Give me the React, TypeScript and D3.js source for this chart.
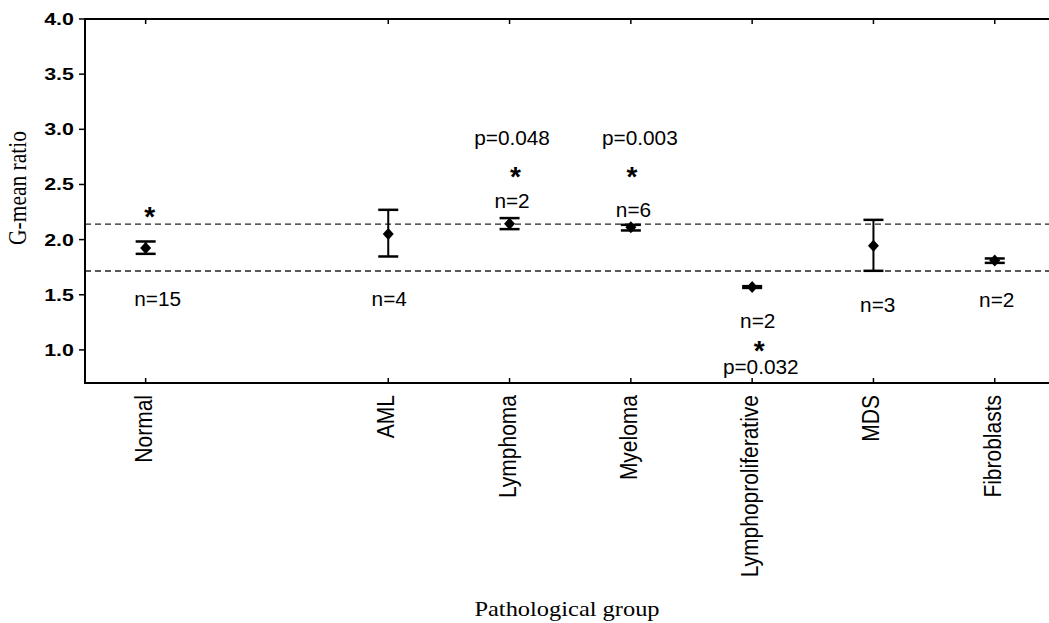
import React from "react";
import * as d3 from "d3";

// ---- data ----
const slots = ["Normal", "__gap__", "AML", "Lymphoma", "Myeloma", "Lymphoproliferative", "MDS", "Fibroblasts"];
const categories = ["Normal", "AML", "Lymphoma", "Myeloma", "Lymphoproliferative", "MDS", "Fibroblasts"];
const means = [1.923, 2.05, 2.143, 2.113, 1.57, 1.944, 1.811];
const lower = [1.871, 1.847, 2.095, 2.083, 1.562, 1.717, 1.789];
const upper = [1.983, 2.27, 2.195, 2.134, 1.578, 2.179, 1.829];
const yTicks = [1.0, 1.5, 2.0, 2.5, 3.0, 3.5, 4.0];
const refLines = [2.14, 1.715];

// annotation anchors in data units (value axis)
const annCat = ["Normal", "Normal", "AML", "Lymphoma", "Lymphoma", "Lymphoma", "Myeloma", "Myeloma", "Myeloma",
  "Lymphoproliferative", "Lymphoproliferative", "Lymphoproliferative", "MDS", "Fibroblasts"];
const annText = ["*", "n=15", "n=4", "p=0.048", "*", "n=2", "p=0.003", "*", "n=6", "n=2", "*", "p=0.032", "n=3", "n=2"];
const annValue = [2.27, 1.464, 1.464, 2.927, 2.632, 2.351, 2.927, 2.632, 2.273, 1.266, 1.052, 0.848, 1.412, 1.457];
const annDx = [4, 12, 1, 2.5, 6, 2.5, 9, 1, 2.6, 5.6, 7, 8.6, 4.3, 2];

const W = 1049;
const H = 623;
const left = 85;
const top = 19;
const bottom = 383;
const step = 121.3;

const sans = "'Liberation Sans', Arial, Helvetica, sans-serif";
const serif = "'Liberation Serif', 'Times New Roman', Times, serif";

export default function App() {
  const x = d3.scalePoint<string>().domain(slots).range([left, left + step * 8]).padding(0.5);
  const y = d3.scaleLinear().domain([0.7, 4.0]).range([bottom, top]);

  const diamond = (cx: number, cy: number) => {
    const p = d3.path();
    p.moveTo(cx, cy - 6);
    p.lineTo(cx + 5.5, cy);
    p.lineTo(cx, cy + 6);
    p.lineTo(cx - 5.5, cy);
    p.closePath();
    return p.toString();
  };

  return (
    <svg width={W} height={H} style={{ position: "absolute", left: 0, top: 0, background: "#fff" }}>
      <rect x={0} y={0} width={W} height={H} fill="#fff" />
      {/* reference dashed lines */}
      {refLines.map((v, i) => (
        <line key={"r" + i} x1={left} x2={W} y1={y(v)} y2={y(v)} stroke="#222" strokeWidth={1.4} strokeDasharray="6,4" />
      ))}
      {/* frame */}
      <line x1={left} x2={left} y1={top - 1} y2={bottom + 1} stroke="#000" strokeWidth={2} />
      <line x1={left} x2={W} y1={top} y2={top} stroke="#000" strokeWidth={2} />
      <line x1={left} x2={W} y1={bottom} y2={bottom} stroke="#000" strokeWidth={2} />
      {/* y ticks */}
      {yTicks.map((t) => (
        <g key={"yt" + t}>
          <line x1={left - 6} x2={left} y1={y(t)} y2={y(t)} stroke="#000" strokeWidth={1.5} />
          <text
            transform={`translate(${left - 11},${y(t) + 5.9}) scale(1.3,1)`}
            textAnchor="end"
            fontFamily={sans}
            fontWeight="bold"
            fontSize={16.5}
            fill="#000"
          >
            {t.toFixed(1)}
          </text>
        </g>
      ))}
      {/* x ticks & labels */}
      {categories.map((c) => {
        const cx = x(c) as number;
        return (
          <g key={"xt" + c}>
            <line x1={cx} x2={cx} y1={top} y2={top + 5} stroke="#000" strokeWidth={1.5} />
            <line x1={cx} x2={cx} y1={bottom - 5} y2={bottom} stroke="#000" strokeWidth={1.5} />
            <text
              transform={`translate(${cx + 6},395) rotate(-90) scale(1,1.15)`}
              textAnchor="end"
              fontFamily={sans}
              fontSize={21}
              fill="#000"
            >
              {c}
            </text>
          </g>
        );
      })}
      {/* error bars and markers */}
      {categories.map((c, i) => {
        const cx = x(c) as number;
        return (
          <g key={"eb" + c}>
            <line x1={cx} x2={cx} y1={y(upper[i])} y2={y(lower[i])} stroke="#000" strokeWidth={2} />
            <line x1={cx - 10} x2={cx + 10} y1={y(upper[i])} y2={y(upper[i])} stroke="#000" strokeWidth={2.5} />
            <line x1={cx - 10} x2={cx + 10} y1={y(lower[i])} y2={y(lower[i])} stroke="#000" strokeWidth={2.5} />
            <path d={diamond(cx, y(means[i]))} fill="#000" />
          </g>
        );
      })}
      {/* annotations */}
      {annText.map((t, i) => {
        const cx = (x(annCat[i]) as number) + annDx[i];
        const cy = y(annValue[i]);
        if (t === "*") {
          return (
            <text key={"a" + i} x={cx} y={cy + 16} textAnchor="middle" fontFamily={sans} fontWeight="bold" fontSize={28} fill="#000">
              {t}
            </text>
          );
        }
        return (
          <text
            key={"a" + i}
            transform={`translate(${cx},${cy + 7.2}) scale(1.04,1)`}
            textAnchor="middle"
            fontFamily={sans}
            fontSize={20}
            fill="#000"
          >
            {t}
          </text>
        );
      })}
      {/* axis titles */}
      <text transform={`translate(26,188) rotate(-90) scale(1,1.2)`} textAnchor="middle" fontFamily={serif} fontSize={21.5} fill="#000">
        G-mean ratio
      </text>
      <text transform={`translate(567,615.5) scale(1.11,1)`} textAnchor="middle" fontFamily={serif} fontSize={22} fill="#000">
        Pathological group
      </text>
    </svg>
  );
}
